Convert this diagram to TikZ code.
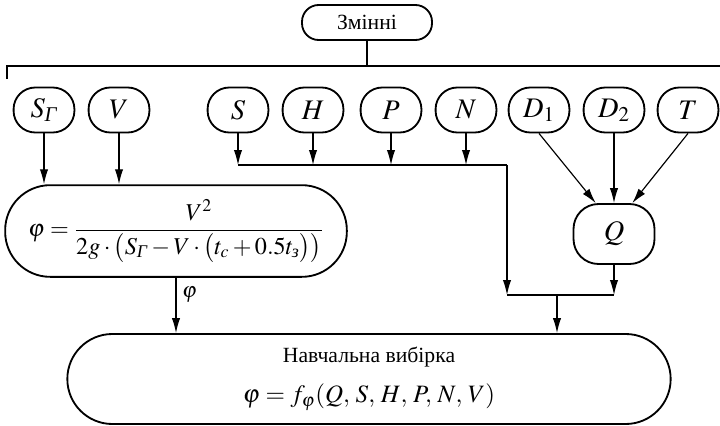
\documentclass[tikz,border=0pt]{standalone}
\usepackage{amsmath}
\usepackage{mathptmx}
\usepackage{fontspec}
\setmainfont{Liberation Serif}
\usetikzlibrary{arrows.meta}

\begin{document}
\begin{tikzpicture}[x=0.6pt, y=-0.6pt,
  font=\fontsize{13}{15}\selectfont,
  box/.style={draw, line width=1.1pt, rounded corners=#1, align=center, inner sep=0pt},
  var/.style={box=13pt, minimum width=36.5pt, minimum height=27pt, font=\fontsize{17}{19}\selectfont},
  arr/.style={line width=0.7pt, -{Latex[length=9pt,width=5pt]}},
  line/.style={line width=0.7pt}]
\useasboundingbox (0,0) rectangle (720,425);

% header and the bar under it
\node[box=10pt, minimum width=78pt, minimum height=21pt] (vars) at (367,22.5) {Змінні};
\coordinate (barl) at (7,66);
\coordinate (barr) at (720,66);
\coordinate (tick) at (7,79);
\draw[line] (vars) -- (vars |- barl);
\draw[line] (tick) -- (barl) -- (barr);

% variables
\node[var] (sg) at (44,110) {$S_{\text{\itshape Γ}}$};
\node[var] (v) at (119,110) {$V$};
\node[var] (s) at (238,110) {$S$};
\node[var] (h) at (313,110) {$H$};
\node[var] (p) at (391,110) {$P$};
\node[var] (n) at (466,110) {$N$};
\node[var] (d1) at (539,110) {$D_1$};
\node[var] (d2) at (614,110) {$D_2$};
\node[var] (t) at (688,110) {$T$};

% formula for phi
\node[box=27pt, minimum width=205pt, minimum height=55pt, font=\fontsize{14.5}{16}\selectfont] (form) at (176,231)
  {$\displaystyle\varphi=\frac{V^{2}}{2g\cdot\bigl(S_{\text{\itshape Γ}}-V\cdot\bigl(t_c+0.5t_{\text{\itshape з}}\bigr)\bigr)}$};

\node[box=15pt, minimum width=48.6pt, minimum height=36pt, font=\fontsize{17}{19}\selectfont] (q) at (614,234) {$Q$};

% training sample
\node[box=27pt, minimum width=362pt, minimum height=54pt] (sample) at (369,379)
  {Навчальна вибірка\\[9pt] {\fontsize{15}{17}\selectfont$\varphi=f_{\varphi}(Q,\,S,\,H,\,P,\,N,\,V)$}};

\coordinate (sn) at (238,165);
\coordinate (ne) at (507,165);
\coordinate (nd) at (507,295);
\coordinate (qd) at (614,295);
\coordinate (mid) at (557,295);

\draw[arr] (sg) -- (sg |- form.north);
\draw[arr] (v) -- (v |- form.north);
\draw[arr] (s) -- (s |- sn);
\draw[arr] (h) -- (h |- sn);
\draw[arr] (p) -- (p |- sn);
\draw[arr] (n) -- (n |- sn);
\draw[line] (sn) -- (ne);
\draw[arr] (ne) -- (nd);
\draw[arr] (d1.south) -- ([xshift=-11pt]q.north);
\draw[arr] (d2) -- (q);
\draw[arr] (t.south) -- ([xshift=11pt]q.north);
\draw[arr] (q) -- (qd);
\draw[line] (nd) -- (qd);
\draw[arr] (mid) -- (mid |- sample.north);
\draw[arr] (form) -- node[right, pos=0.3] {$\varphi$} (form |- sample.north);
\end{tikzpicture}
\end{document}
